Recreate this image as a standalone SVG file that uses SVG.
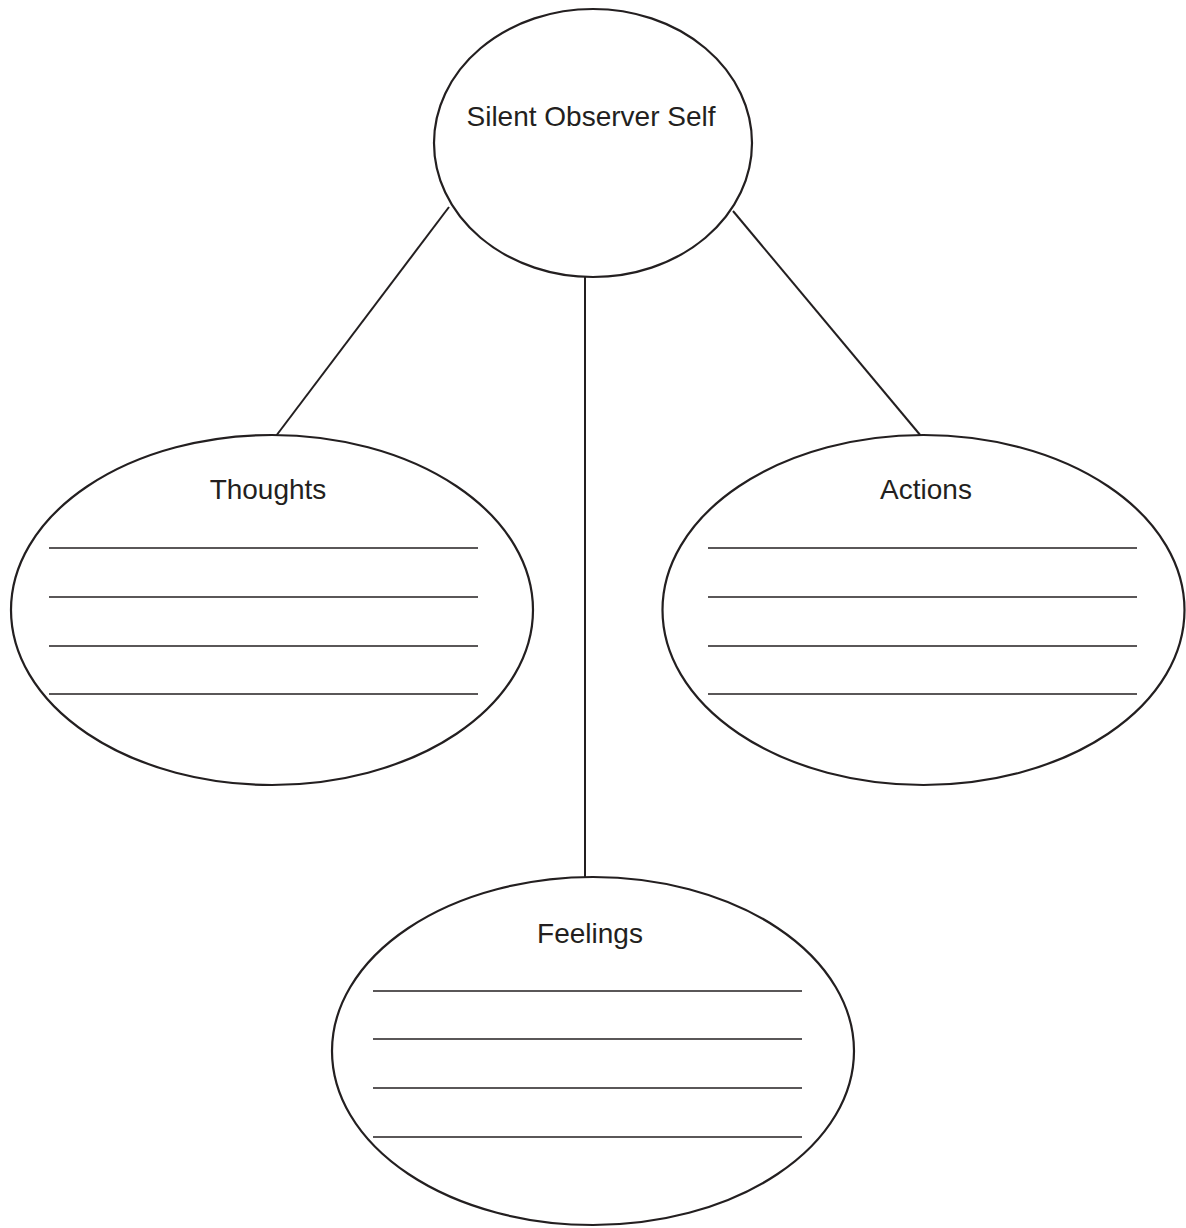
<svg xmlns="http://www.w3.org/2000/svg" width="1186" height="1228" viewBox="0 0 1186 1228">
<style>
.node{fill:#fff;stroke:#231f20;stroke-width:2.2}
.conn{stroke:#231f20;stroke-width:2;fill:none}
.rule{stroke:#231f20;stroke-width:1.6}
.lbl{font-family:"Liberation Sans",Arial,sans-serif;font-size:28px;fill:#231f20;text-anchor:middle}
</style>
<rect width="1186" height="1228" fill="#fff"/>
<g id="connectors">
<line class="conn" x1="449" y1="207" x2="276" y2="436"/>
<line class="conn" x1="585" y1="277" x2="585" y2="877"/>
<line class="conn" x1="733" y1="211" x2="921" y2="436"/>
</g>
<g id="observer">
<ellipse class="node" cx="593" cy="143" rx="159" ry="134"/>
<text class="lbl" x="591" y="126">Silent Observer Self</text>
</g>
<g id="thoughts">
<ellipse class="node" cx="272" cy="610" rx="261" ry="175"/>
<text class="lbl" x="268" y="499">Thoughts</text>
<line class="rule" x1="49" y1="548" x2="478" y2="548"/>
<line class="rule" x1="49" y1="597" x2="478" y2="597"/>
<line class="rule" x1="49" y1="646" x2="478" y2="646"/>
<line class="rule" x1="49" y1="694" x2="478" y2="694"/>
</g>
<g id="actions">
<ellipse class="node" cx="923.5" cy="610" rx="261" ry="175"/>
<text class="lbl" x="926" y="499">Actions</text>
<line class="rule" x1="708" y1="548" x2="1137" y2="548"/>
<line class="rule" x1="708" y1="597" x2="1137" y2="597"/>
<line class="rule" x1="708" y1="646" x2="1137" y2="646"/>
<line class="rule" x1="708" y1="694" x2="1137" y2="694"/>
</g>
<g id="feelings">
<ellipse class="node" cx="593" cy="1051" rx="261" ry="174"/>
<text class="lbl" x="590" y="943">Feelings</text>
<line class="rule" x1="373" y1="991" x2="802" y2="991"/>
<line class="rule" x1="373" y1="1039" x2="802" y2="1039"/>
<line class="rule" x1="373" y1="1088" x2="802" y2="1088"/>
<line class="rule" x1="373" y1="1137" x2="802" y2="1137"/>
</g>
</svg>
